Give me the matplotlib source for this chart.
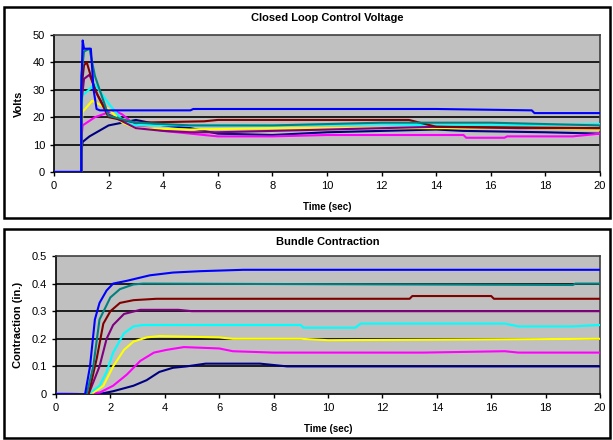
import matplotlib.pyplot as plt
from matplotlib.patches import Rectangle

plt.rcParams['font.family'] = ['Liberation Sans', 'DejaVu Sans']

colors = ['#000080', '#FF00FF', '#FFFF00', '#00FFFF', '#800080', '#800000', '#008080', '#0000FF']

# Closed loop control voltage (time in sec, volts), one list per run
v_time = {
    'navy':    [0, 1.0, 1.0, 1.05, 1.3, 2.0, 2.5, 3.0, 3.5, 4.0, 5.0, 6.0, 8.0, 10.0, 12.0, 14.0, 15.0, 18.0, 20.0],
    'magenta': [0, 1.0, 1.0, 1.05, 1.5, 2.2, 2.5, 3.0, 4.0, 5.0, 6.0, 8.0, 10.0, 15.0, 15.1, 16.5, 16.6, 19.0, 20.0],
    'yellow':  [0, 1.0, 1.0, 1.05, 1.4, 2.0, 2.5, 3.0, 5.0, 8.0, 12.0, 14.0, 17.0, 20.0],
    'cyan':    [0, 1.0, 1.0, 1.05, 1.5, 2.0, 2.5, 3.0, 5.0, 8.0, 12.0, 14.0, 17.0, 20.0],
    'purple':  [0, 1.0, 1.0, 1.1, 1.3, 1.6, 2.0, 3.0, 4.0, 5.0, 6.0, 8.0, 10.0, 12.0, 14.0, 17.0, 20.0],
    'maroon':  [0, 1.0, 1.0, 1.1, 1.2, 1.5, 2.0, 3.0, 5.5, 6.0, 13.0, 14.0, 20.0],
    'teal':    [0, 1.0, 1.0, 1.1, 1.3, 1.5, 2.0, 3.0, 5.0, 8.0, 12.0, 16.0, 18.0, 20.0],
    'blue':    [0, 1.0, 1.0, 1.05, 1.1, 1.35, 1.45, 1.56, 1.68, 5.0, 5.1, 14.0, 17.5, 17.6, 20.0],
}
v_vals = {
    'navy':    [0, 0, 7, 11, 13, 17, 18, 19, 18, 17, 16, 14, 13.5, 14.5, 15, 15.5, 15, 14.5, 14],
    'magenta': [0, 0, 12, 17, 20, 22.5, 21, 17, 15, 14, 13, 13, 13.5, 13.5, 12.5, 12.5, 13, 13, 14],
    'yellow':  [0, 0, 15, 22, 26, 23, 18, 16, 15.5, 16, 16, 16, 16, 15.5],
    'cyan':    [0, 0, 20, 28, 32, 25, 19, 17, 17, 17, 17.5, 17, 17, 17.5],
    'purple':  [0, 0, 25, 34, 35.5, 28, 21, 16, 15, 14.5, 14.5, 15, 15.5, 16, 16.5, 16, 16],
    'maroon':  [0, 0, 30, 39, 40, 30, 20, 18, 18.5, 19, 19, 16.5, 16],
    'teal':    [0, 0, 35, 44, 45, 35, 20.5, 18, 17, 17, 18, 18, 17.5, 17],
    'blue':    [0, 0, 30, 48, 45, 45, 30, 23, 22.5, 22.5, 23, 23, 22.5, 21.5, 21.5],
}

# Bundle contraction (time in sec, inches)
c_time = {
    'navy':    [0, 1.6, 2.1, 2.85, 3.33, 3.8, 4.3, 4.8, 5.5, 7.5, 8.0, 8.5, 20.0],
    'magenta': [0, 1.6, 2.1, 2.6, 3.1, 3.6, 4.07, 4.7, 6.0, 6.5, 8.0, 13.5, 16.5, 17.0, 20.0],
    'yellow':  [0, 1.37, 1.74, 2.1, 2.5, 2.85, 3.33, 3.8, 6.0, 6.5, 9.0, 10.0, 20.0],
    'cyan':    [0, 1.2, 1.6, 1.86, 2.1, 2.5, 2.85, 3.2, 9.0, 9.1, 11.0, 11.2, 16.5, 17.0, 19.0, 20.0],
    'purple':  [0, 1.2, 1.6, 1.86, 2.1, 2.5, 3.1, 4.5, 5.0, 20.0],
    'maroon':  [0, 1.2, 1.5, 1.74, 2.0, 2.35, 2.85, 3.7, 13.0, 13.1, 16.0, 16.1, 20.0],
    'teal':    [0, 1.13, 1.37, 1.6, 2.0, 2.35, 2.85, 3.2, 19.0, 19.1, 20.0],
    'blue':    [0, 1.07, 1.25, 1.43, 1.6, 1.86, 2.1, 2.6, 3.45, 4.3, 5.3, 6.9, 20.0],
}
c_vals = {
    'navy':    [0, 0, 0.01, 0.03, 0.05, 0.08, 0.095, 0.1, 0.11, 0.11, 0.105, 0.1, 0.1],
    'magenta': [0, 0.005, 0.03, 0.07, 0.12, 0.15, 0.16, 0.17, 0.165, 0.155, 0.15, 0.15, 0.155, 0.15, 0.15],
    'yellow':  [0, 0.005, 0.03, 0.1, 0.16, 0.19, 0.205, 0.21, 0.205, 0.2, 0.2, 0.195, 0.2],
    'cyan':    [0, 0, 0.03, 0.08, 0.15, 0.22, 0.245, 0.25, 0.25, 0.24, 0.24, 0.255, 0.255, 0.245, 0.245, 0.25],
    'purple':  [0, 0, 0.1, 0.2, 0.25, 0.29, 0.305, 0.305, 0.3, 0.3],
    'maroon':  [0, 0, 0.13, 0.255, 0.3, 0.33, 0.34, 0.345, 0.345, 0.355, 0.355, 0.345, 0.345],
    'teal':    [0, 0, 0.1, 0.27, 0.35, 0.38, 0.397, 0.4, 0.395, 0.4, 0.4],
    'blue':    [0, 0, 0.1, 0.27, 0.33, 0.375, 0.4, 0.41, 0.43, 0.44, 0.445, 0.45, 0.45],
}
names = ['navy', 'magenta', 'yellow', 'cyan', 'purple', 'maroon', 'teal', 'blue']

fig = plt.figure(figsize=(6.13, 4.4), dpi=100)

# panel borders
for y0, h in [(1 - 218 / 440, 211 / 440), (1 - 438 / 440, 209 / 440)]:
    fig.add_artist(Rectangle((4 / 613, y0), 606 / 613, h, transform=fig.transFigure,
                             fill=False, edgecolor='black', linewidth=1.8))

ax1 = fig.add_axes([54 / 613, 1 - 172 / 440, 546 / 613, 137 / 440])
ax2 = fig.add_axes([56 / 613, 1 - 394 / 440, 544 / 613, 138 / 440])


def style(ax, title, ylabel, yticks, ylim, tpad):
    ax.set_facecolor('#C0C0C0')
    ax.set_xlim(0, 20)
    ax.set_ylim(*ylim)
    ax.set_xticks(range(0, 21, 2))
    ax.set_yticks(yticks)
    for y in yticks[1:-1]:
        ax.axhline(y, color='black', linewidth=1.2, zorder=1)
    ax.set_title(title, fontsize=8, fontweight='bold', pad=tpad)
    ax.set_xlabel('Time (sec)', fontsize=7, fontweight='bold', labelpad=8)
    ax.set_ylabel(ylabel, fontsize=8, fontweight='bold', labelpad=6)
    ax.tick_params(labelsize=8, direction='out', length=3, width=1)
    for s in ['left', 'bottom']:
        ax.spines[s].set_color('black')
        ax.spines[s].set_linewidth(1.2)
    for s in ['top', 'right']:
        ax.spines[s].set_color('#404040')
        ax.spines[s].set_linewidth(1.2)


for n, c in zip(names, colors):
    ax1.plot(v_time[n], v_vals[n], color=c, linewidth=1.5, zorder=3)
    ax2.plot(c_time[n], c_vals[n], color=c, linewidth=1.5, zorder=3)

style(ax1, 'Closed Loop Control Voltage', 'Volts', [0, 10, 20, 30, 40, 50], (0, 50), 10)
style(ax2, 'Bundle Contraction', 'Contraction (in.)', [0, 0.1, 0.2, 0.3, 0.4, 0.5], (0, 0.5), 8)
ax2.set_yticklabels(['0', '0.1', '0.2', '0.3', '0.4', '0.5'])

fig.savefig('out.png', dpi=100)
